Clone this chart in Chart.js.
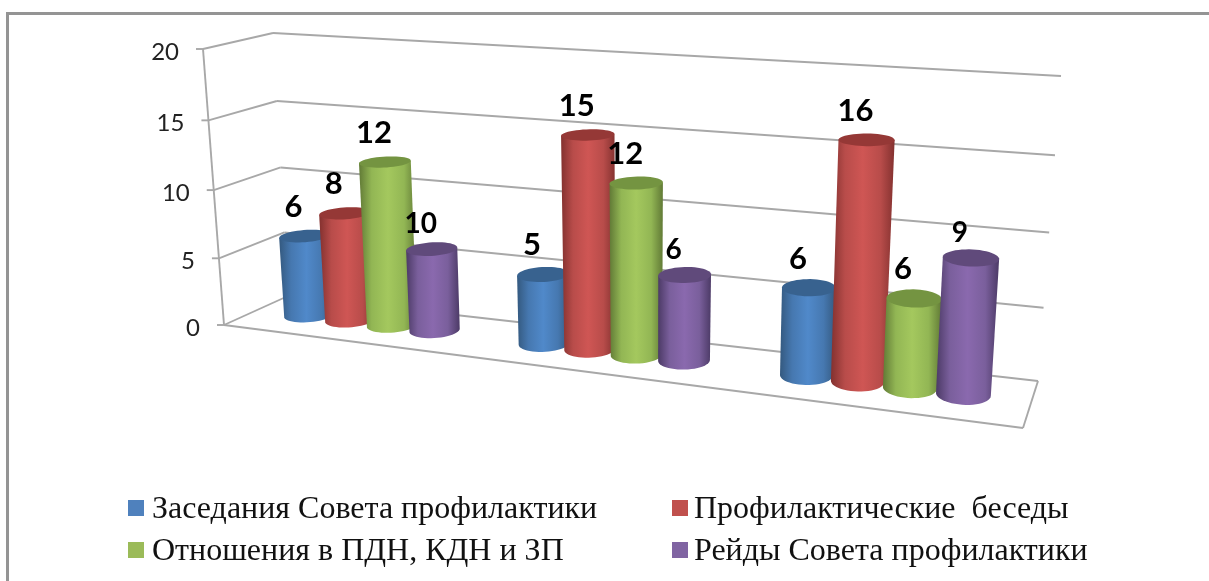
<!DOCTYPE html>
<html lang="ru">
<head>
    <meta charset="UTF-8">
    <title>Профилактическая работа</title>
    <style>
        html, body { margin: 0; padding: 0; background: #fff; overflow: hidden; }
        #wrap { position: relative; width: 1209px; height: 581px; filter: blur(0.5px); }
        #frame { position: absolute; left: 6px; top: 12px; right: -5px; bottom: -5px; border: 3px solid #949494; }
        canvas { position: absolute; left: 0; top: 0; }
        .legend-item { position: absolute; font: 32px "Liberation Serif", serif; color: #111; white-space: pre; line-height: 32px; }
        .legend-box { position: absolute; width: 16px; height: 16px; }
    </style>
</head>
<body>
<div id="wrap">
    <div id="frame"></div>
    <canvas id="chart" width="1209" height="581"></canvas>
</div>

<script src="https://cdn.jsdelivr.net/npm/chart.js"></script>
<script>
    const categories = ['1', '2', '3'];
    const seriesNames = ['Заседания Совета профилактики', 'Профилактические  беседы', 'Отношения в ПДН, КДН и ЗП', 'Рейды Совета профилактики'];

    // bar heights as read against the gridlines
    const meetings = [6, 5, 6];
    const talks = [8, 15, 16];
    const referrals = [12, 12, 6];
    const raids = [6, 6, 9];

    // numbers printed above the bars (first raids bar is labelled 10 but stands at about 6)
    const meetingsLabels = [6, 5, 6];
    const talksLabels = [8, 15, 16];
    const referralsLabels = [12, 12, 6];
    const raidsLabels = [10, 6, 9];

    const yTicks = [0, 5, 10, 15, 20];

    const colors = ['#4F81BD', '#C0504D', '#9BBB59', '#8064A2'];
    const shades = [
        { edge: '#34597f', mid: '#4678b0', light: '#5089ca', cap: '#38628f' },
        { edge: '#83312f', mid: '#b84c4a', light: '#cf5654', cap: '#953836' },
        { edge: '#617a36', mid: '#92b654', light: '#a4c85e', cap: '#749441' },
        { edge: '#4c3a66', mid: '#7a5f9c', light: '#8a69ae', cap: '#604a7b' }
    ];

    // corners of the 3D box on the page: back wall and front plane
    const backBox = { bl: [288, 296], br: [1038, 381], tr: [1061, 76], tl: [273, 33] };
    const frontBox = { bl: [224, 325], br: [1023, 428], tr: [1042, 100], tl: [203, 49] };
    const barDepth = 0.55;
    const capDepth = 0.23;

    function mix(a, b, t) {
        return [a[0] + (b[0] - a[0]) * t, a[1] + (b[1] - a[1]) * t];
    }

    // u along the width, v up the height, d from front (0) to back (1)
    function project(u, v, d) {
        const p00 = mix(frontBox.bl, backBox.bl, d);
        const p10 = mix(frontBox.br, backBox.br, d);
        const p11 = mix(frontBox.tr, backBox.tr, d);
        const p01 = mix(frontBox.tl, backBox.tl, d);
        const dx1 = p10[0] - p11[0], dx2 = p01[0] - p11[0], sx = p00[0] - p10[0] + p11[0] - p01[0];
        const dy1 = p10[1] - p11[1], dy2 = p01[1] - p11[1], sy = p00[1] - p10[1] + p11[1] - p01[1];
        const den = dx1 * dy2 - dx2 * dy1;
        const g = (sx * dy2 - dx2 * sy) / den;
        const h = (dx1 * sy - sx * dy1) / den;
        const a = p10[0] - p00[0] + g * p10[0], b = p01[0] - p00[0] + h * p01[0];
        const c = p10[1] - p00[1] + g * p10[1], e = p01[1] - p00[1] + h * p01[1];
        const w = g * u + h * v + 1;
        return [(a * u + b * v + p00[0]) / w, (c * u + e * v + p00[1]) / w];
    }

    function line(ctx, p, q) {
        ctx.beginPath();
        ctx.moveTo(p[0], p[1]);
        ctx.lineTo(q[0], q[1]);
        ctx.stroke();
    }

    function capPoints(u, r, v) {
        const pts = [];
        for (let i = 0; i < 48; i++) {
            const t = i / 48 * Math.PI * 2;
            pts.push(project(u + r * Math.cos(t), v, barDepth + capDepth * Math.sin(t)));
        }
        return pts;
    }

    function extreme(pts, sign) {
        let best = 0;
        pts.forEach((p, i) => { if (p[0] * sign > pts[best][0] * sign) best = i; });
        return best;
    }

    function drawCylinder(ctx, u, r, v0, v1, shade) {
        const bottom = capPoints(u, r, v0);
        const top = capPoints(u, r, v1);
        const bl = extreme(bottom, -1), br = extreme(bottom, 1);
        const tl = extreme(top, -1), tr = extreme(top, 1);

        const x0 = Math.min(bottom[bl][0], top[tl][0]);
        const x1 = Math.max(bottom[br][0], top[tr][0]);
        const grad = ctx.createLinearGradient(x0, 0, x1, 0);
        grad.addColorStop(0, shade.edge);
        grad.addColorStop(0.22, shade.mid);
        grad.addColorStop(0.5, shade.light);
        grad.addColorStop(0.78, shade.mid);
        grad.addColorStop(1, shade.edge);

        ctx.beginPath();
        ctx.moveTo(top[tl][0], top[tl][1]);
        // front half of the base, left to right
        for (let i = bl; ; i = (i + 1) % 48) {
            ctx.lineTo(bottom[i][0], bottom[i][1]);
            if (i === br) break;
        }
        ctx.lineTo(top[tr][0], top[tr][1]);
        ctx.closePath();
        ctx.fillStyle = grad;
        ctx.fill();

        ctx.beginPath();
        top.forEach((p, i) => i ? ctx.lineTo(p[0], p[1]) : ctx.moveTo(p[0], p[1]));
        ctx.closePath();
        ctx.fillStyle = shade.cap;
        ctx.fill();
    }

    const box3d = {
        id: 'box3d',
        beforeDatasetsDraw(chart) {
            const ctx = chart.ctx;
            const area = chart.chartArea;
            const yScale = chart.scales.y;
            const toU = px => (px - area.left) / (area.right - area.left);
            const toV = py => (area.bottom - py) / (area.bottom - area.top);

            ctx.save();
            ctx.strokeStyle = '#a8a8a8';
            ctx.lineWidth = 1.9;

            // walls and tick marks
            yTicks.forEach(t => {
                const v = toV(yScale.getPixelForValue(t));
                const front = project(0, v, 0);
                line(ctx, [front[0] - 7, front[1]], front);
                line(ctx, front, project(0, v, 1));
                line(ctx, project(0, v, 1), project(1, v, 1));
                ctx.fillStyle = '#222';
                ctx.font = '24px Lato, sans-serif';
                ctx.textAlign = 'right';
                ctx.textBaseline = 'middle';
                ctx.fillText(String(t), front[0] - 24, front[1] + 3);
            });
            line(ctx, project(0, 1, 0), project(0, 0, 0));
            line(ctx, project(0, 0, 0), project(1, 0, 0));
            line(ctx, project(1, 0, 0), project(1, 0, 1));

            // bars come from the library's own layout
            const metas = chart.data.datasets.map((ds, i) => chart.getDatasetMeta(i));
            categories.forEach((cat, i) => {
                metas.forEach((meta, k) => {
                    const bar = meta.data[i];
                    const r = bar.width / 2 / (area.right - area.left);
                    drawCylinder(ctx, toU(bar.x), r, toV(bar.base), toV(bar.y), shades[k]);
                });
            });

            // numbers on top of everything
            ctx.fillStyle = '#000';
            ctx.textAlign = 'center';
            ctx.textBaseline = 'middle';
            chart.data.datasets.forEach((ds, k) => {
                const small = k === 3;
                ctx.font = 'bold ' + (small ? 28 : 31) + 'px Lato, sans-serif';
                metas[k].data.forEach((bar, i) => {
                    const p = project(toU(bar.x), toV(bar.y), barDepth);
                    ctx.fillText(String(ds.printed[i]), p[0] - 11, p[1] - (small ? 25 : 29));
                });
            });
            ctx.restore();
            return false;
        }
    };

    const values = [meetings, talks, referrals, raids];
    const printed = [meetingsLabels, talksLabels, referralsLabels, raidsLabels];

    const chart = new Chart(document.getElementById('chart').getContext('2d'), {
        type: 'bar',
        data: {
            labels: categories,
            datasets: seriesNames.map((name, i) => ({
                label: name,
                data: values[i],
                printed: printed[i],
                backgroundColor: colors[i],
                barPercentage: 1.0,
                categoryPercentage: 0.73
            }))
        },
        options: {
            responsive: false,
            animation: false,
            layout: { padding: { top: 49, bottom: 256, left: 203, right: 149 } },
            plugins: { legend: { display: false }, tooltip: { enabled: false } },
            scales: {
                x: { display: false },
                y: { display: false, min: 0, max: 20, ticks: { stepSize: 5 } }
            }
        },
        plugins: [box3d]
    });

    // two-column legend, the built-in one can't line up its columns
    const wrap = document.getElementById('wrap');
    const legendX = [128, 672];
    const legendTextX = [152, 694];
    const legendY = [500, 542];
    seriesNames.forEach((name, i) => {
        const col = i % 2, row = i >> 1;
        const box = document.createElement('div');
        box.className = 'legend-box';
        box.style.cssText = `left:${legendX[col]}px;top:${legendY[row]}px;background:${colors[i]}`;
        const text = document.createElement('div');
        text.className = 'legend-item';
        text.style.cssText = `left:${legendTextX[col]}px;top:${legendY[row] - 9}px`;
        text.textContent = name;
        wrap.appendChild(box);
        wrap.appendChild(text);
    });
</script>
</body>
</html>
